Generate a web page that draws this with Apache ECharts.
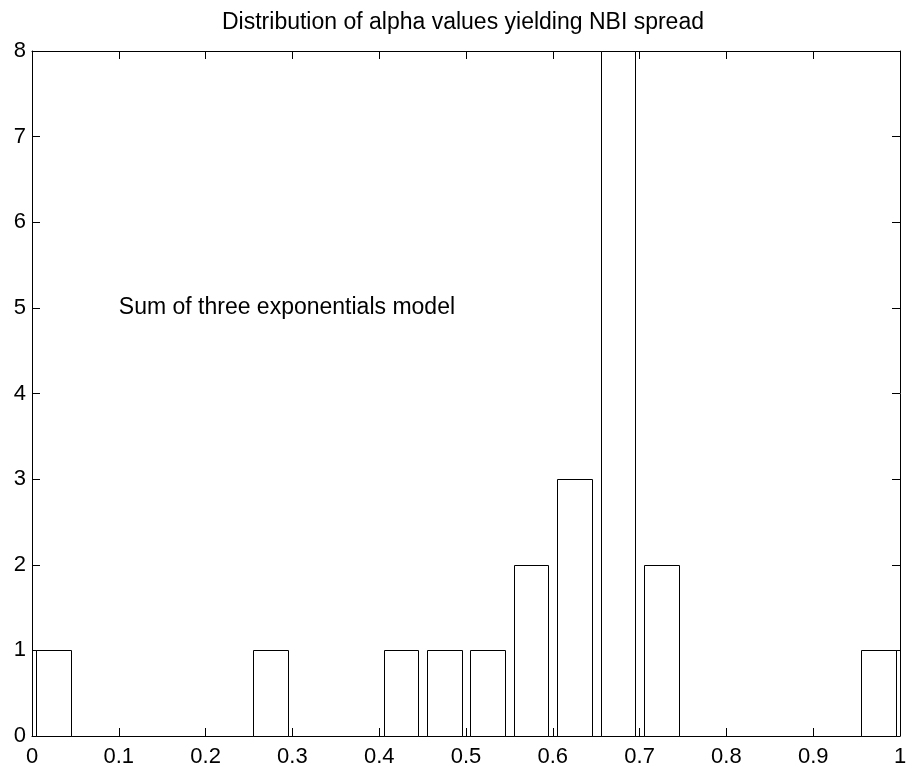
<!DOCTYPE html>
<html>
<head>
<meta charset="utf-8">
<script src="https://cdn.jsdelivr.net/npm/echarts@6/dist/echarts.min.js"></script>
<style>
html,body{margin:0;padding:0;background:#fff;}
#chart{width:910px;height:770px;}
</style>
</head>
<body>
<div id="chart"></div>
<script>
var titleText = 'Distribution of alpha values yielding NBI spread';
var noteText = 'Sum of three exponentials model';
var notePos = [0.1, 5];
var binCenters = [0.025,0.075,0.125,0.175,0.225,0.275,0.325,0.375,0.425,0.475,0.525,0.575,0.625,0.675,0.725,0.775,0.825,0.875,0.925,0.975];
var counts =     [1,0,0,0,0,1,0,0,1,1,1,2,3,8,2,0,0,0,0,1];
var barWidthData = 0.04;

var FONT = 'Liberation Sans, Arial, Helvetica, sans-serif';
var chart = echarts.init(document.getElementById('chart'));

var barData = [];
for (var i = 0; i < binCenters.length; i++) {
  if (counts[i] > 0) barData.push([binCenters[i], counts[i]]);
}

function fmtX(v){
  var r = Math.round(v*10)/10;
  if (r === 0) return '0';
  if (r === 1) return '1';
  return String(r);
}

var axisLine = {show:true, onZero:false, lineStyle:{color:'#000', width:1}};
var axisTickIn = {show:true, inside:true, length:8, lineStyle:{color:'#000', width:1}};

var option = {
  backgroundColor:'#fff',
  animation:false,
  graphic:[{
    type:'text', left:222, top:11,
    style:{text:titleText, fontFamily:FONT, fontSize:23, fill:'#000'}
  }],
  grid:{left:32, right:10, top:51, bottom:34, containLabel:false},
  xAxis:[{
    type:'value', min:0, max:1, interval:0.1, position:'bottom',
    axisLine:axisLine, axisTick:axisTickIn, splitLine:{show:false},
    axisLabel:{show:true, margin:10, fontFamily:FONT, fontSize:22, color:'#000', formatter:fmtX}
  },{
    type:'value', min:0, max:1, interval:0.1, position:'top',
    axisLine:axisLine, axisTick:axisTickIn, splitLine:{show:false},
    axisLabel:{show:false}
  }],
  yAxis:[{
    type:'value', min:0, max:8, interval:1, position:'left',
    axisLine:axisLine, axisTick:axisTickIn, splitLine:{show:false},
    axisLabel:{show:true, margin:6, fontFamily:FONT, fontSize:22, color:'#000'}
  },{
    type:'value', min:0, max:8, interval:1, position:'right',
    axisLine:axisLine, axisTick:axisTickIn, splitLine:{show:false},
    axisLabel:{show:false}
  }],
  series:[{
    type:'custom',
    xAxisIndex:0, yAxisIndex:0,
    data:barData,
    renderItem:function(params, api){
      var c = api.value(0), v = api.value(1);
      var p1 = api.coord([c - barWidthData/2, v]);
      var p2 = api.coord([c + barWidthData/2, 0]);
      var x1 = Math.round(p1[0]) + 0.5, x2 = Math.round(p2[0]) + 0.5;
      var y1 = Math.round(p1[1]) + 0.5, y2 = Math.round(p2[1]) + 0.5;
      return {
        type:'rect',
        shape:{x:x1, y:y1, width:x2-x1, height:y2-y1},
        style:{fill:'#fff', stroke:'#000', lineWidth:1}
      };
    },
    z:2
  },{
    type:'custom',
    xAxisIndex:0, yAxisIndex:0,
    data:[notePos],
    silent:true,
    renderItem:function(params, api){
      var p = api.coord([api.value(0), api.value(1)]);
      return {
        type:'text',
        x:p[0], y:p[1],
        style:{text:noteText, fontFamily:FONT, fontSize:23, fill:'#000', align:'left', verticalAlign:'middle'}
      };
    },
    z:5
  }]
};
chart.setOption(option);
</script>
</body>
</html>
